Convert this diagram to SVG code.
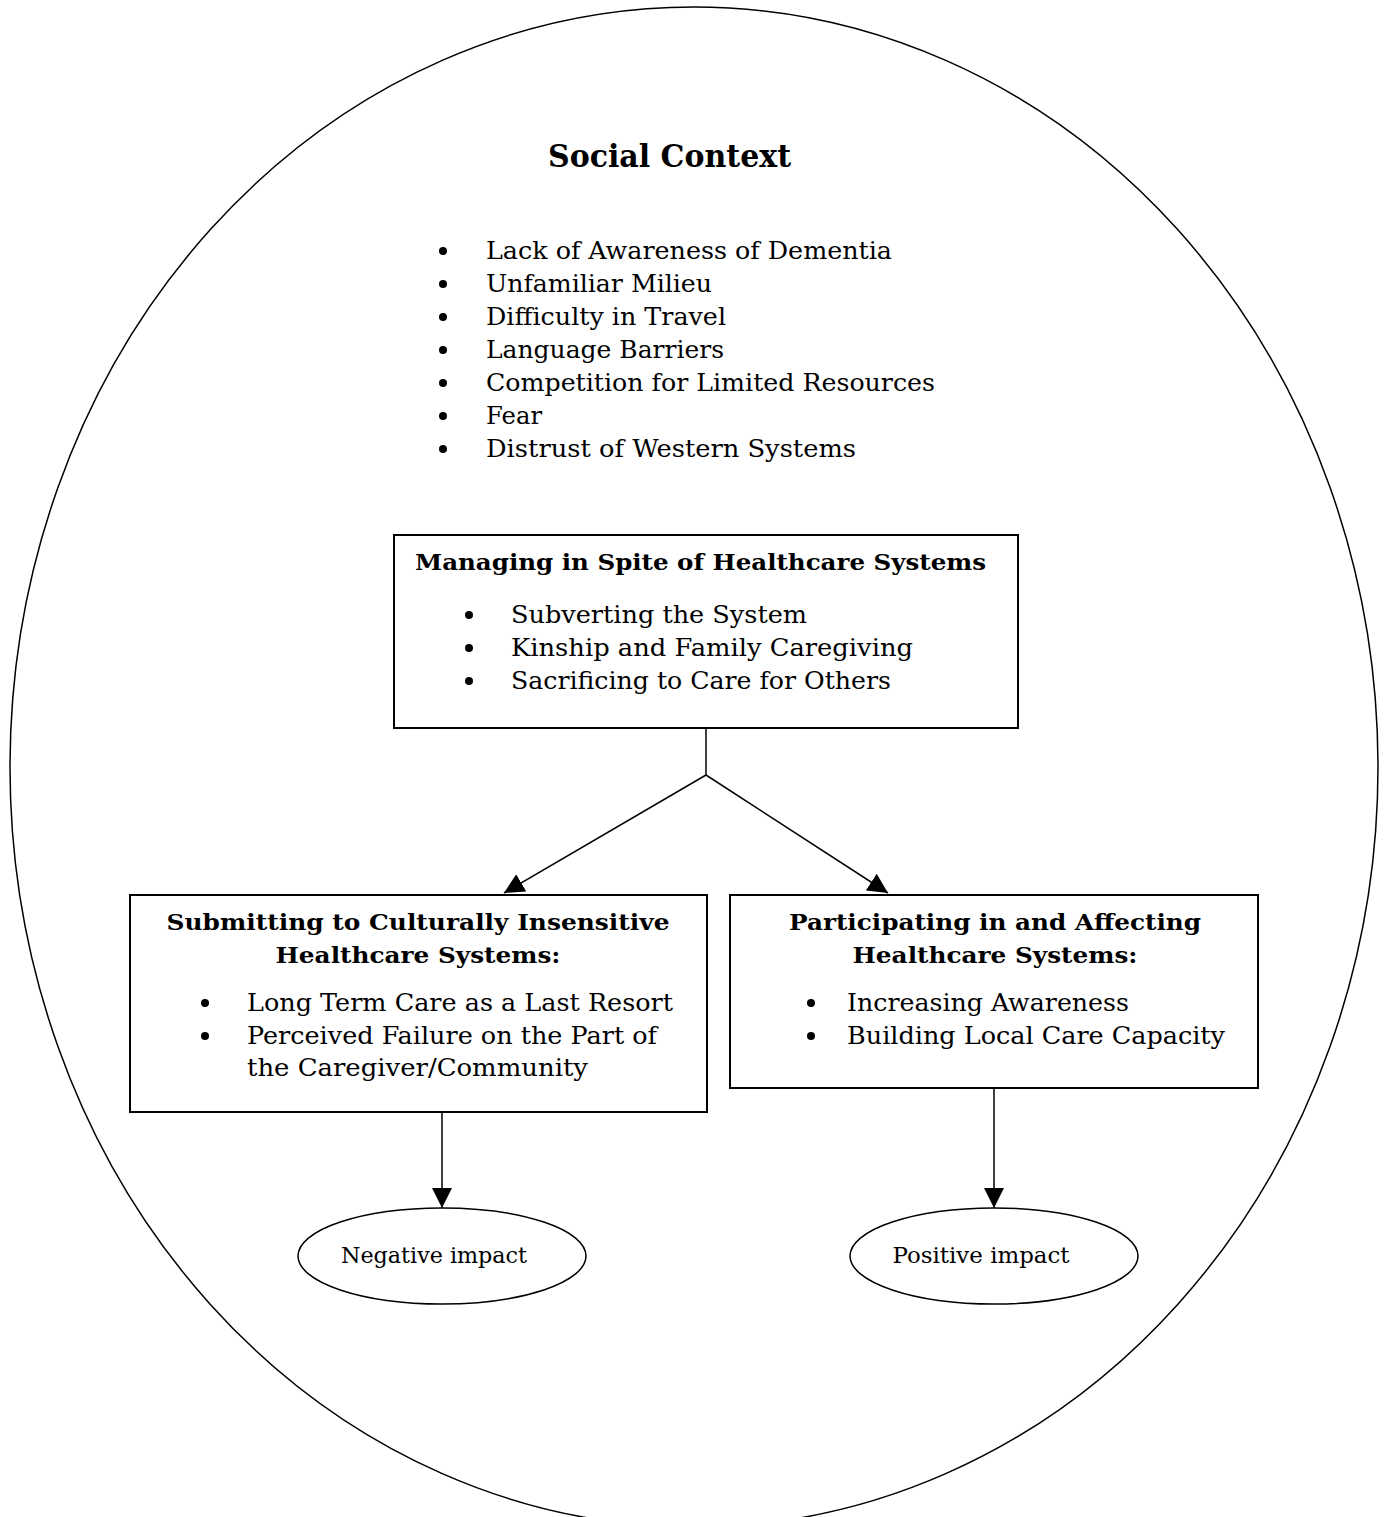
<svg xmlns="http://www.w3.org/2000/svg" width="1387" height="1517" viewBox="0 0 1387 1517">
<style>
.t{font-family:"DejaVu Serif","Liberation Serif",serif;font-size:24px;fill:#000}
.b{font-family:"DejaVu Serif","Liberation Serif",serif;font-size:23px;font-weight:bold;fill:#000}
.h{font-family:"DejaVu Serif","Liberation Serif",serif;font-size:31px;font-weight:bold;fill:#000}
.s{font-family:"DejaVu Serif","Liberation Serif",serif;font-size:22px;fill:#000}
.box{fill:#fff;stroke:#000;stroke-width:2}
.ln{fill:none;stroke:#000;stroke-width:1.5}
</style>
<defs>
<marker id="ah" viewBox="0 0 10 10" refX="10" refY="5" markerWidth="20" markerHeight="20" markerUnits="userSpaceOnUse" orient="auto">
<path d="M0,0 L10,5 L0,10 z" fill="#000"/>
</marker>
</defs>
<rect width="1387" height="1517" fill="#fff"/>
<g id="context">
<ellipse cx="694" cy="767" rx="684" ry="760" fill="none" stroke="#000" stroke-width="1.5"/>
<text class="h" x="548" y="167" textLength="243" lengthAdjust="spacingAndGlyphs">Social Context</text>
<g class="t">
<circle cx="443" cy="251" r="4"/><text x="486" y="259" textLength="406" lengthAdjust="spacingAndGlyphs">Lack of Awareness of Dementia</text>
<circle cx="443" cy="284" r="4"/><text x="486" y="292" textLength="226" lengthAdjust="spacingAndGlyphs">Unfamiliar Milieu</text>
<circle cx="443" cy="317" r="4"/><text x="486" y="325" textLength="240" lengthAdjust="spacingAndGlyphs">Difficulty in Travel</text>
<circle cx="443" cy="350" r="4"/><text x="486" y="358" textLength="238" lengthAdjust="spacingAndGlyphs">Language Barriers</text>
<circle cx="443" cy="383" r="4"/><text x="486" y="391" textLength="449" lengthAdjust="spacingAndGlyphs">Competition for Limited Resources</text>
<circle cx="443" cy="416" r="4"/><text x="486" y="424" textLength="56" lengthAdjust="spacingAndGlyphs">Fear</text>
<circle cx="443" cy="449" r="4"/><text x="486" y="457" textLength="370" lengthAdjust="spacingAndGlyphs">Distrust of Western Systems</text>
</g>
</g>
<g id="managing">
<rect class="box" x="394" y="535" width="624" height="193"/>
<text class="b" x="415" y="570" textLength="571" lengthAdjust="spacingAndGlyphs">Managing in Spite of Healthcare Systems</text>
<g class="t">
<circle cx="469" cy="615" r="4"/><text x="511" y="623" textLength="296" lengthAdjust="spacingAndGlyphs">Subverting the System</text>
<circle cx="469" cy="648" r="4"/><text x="511" y="656" textLength="402" lengthAdjust="spacingAndGlyphs">Kinship and Family Caregiving</text>
<circle cx="469" cy="681" r="4"/><text x="511" y="689" textLength="380" lengthAdjust="spacingAndGlyphs">Sacrificing to Care for Others</text>
</g>
</g>
<g id="submitting">
<rect class="box" x="130" y="895" width="577" height="217"/>
<text class="b" x="418" y="930" text-anchor="middle" textLength="503" lengthAdjust="spacingAndGlyphs">Submitting to Culturally Insensitive</text>
<text class="b" x="418" y="963" text-anchor="middle" textLength="285" lengthAdjust="spacingAndGlyphs">Healthcare Systems:</text>
<g class="t">
<circle cx="205" cy="1003" r="4"/><text x="247" y="1011" textLength="426" lengthAdjust="spacingAndGlyphs">Long Term Care as a Last Resort</text>
<circle cx="205" cy="1036" r="4"/><text x="247" y="1044" textLength="410" lengthAdjust="spacingAndGlyphs">Perceived Failure on the Part of</text>
<text x="247" y="1076" textLength="341" lengthAdjust="spacingAndGlyphs">the Caregiver/Community</text>
</g>
</g>
<g id="participating">
<rect class="box" x="730" y="895" width="528" height="193"/>
<text class="b" x="995" y="930" text-anchor="middle" textLength="412" lengthAdjust="spacingAndGlyphs">Participating in and Affecting</text>
<text class="b" x="995" y="963" text-anchor="middle" textLength="285" lengthAdjust="spacingAndGlyphs">Healthcare Systems:</text>
<g class="t">
<circle cx="811" cy="1003" r="4"/><text x="847" y="1011" textLength="282" lengthAdjust="spacingAndGlyphs">Increasing Awareness</text>
<circle cx="811" cy="1036" r="4"/><text x="847" y="1044" textLength="378" lengthAdjust="spacingAndGlyphs">Building Local Care Capacity</text>
</g>
</g>
<g id="negative">
<ellipse cx="442" cy="1256" rx="144" ry="48" fill="#fff" stroke="#000" stroke-width="1.5"/>
<text class="s" x="434" y="1263" text-anchor="middle" textLength="186" lengthAdjust="spacingAndGlyphs">Negative impact</text>
</g>
<g id="positive">
<ellipse cx="994" cy="1256" rx="144" ry="48" fill="#fff" stroke="#000" stroke-width="1.5"/>
<text class="s" x="981" y="1263" text-anchor="middle" textLength="177" lengthAdjust="spacingAndGlyphs">Positive impact</text>
</g>
<g id="connectors">
<polyline class="ln" points="706,728 706,775"/>
<line class="ln" x1="706" y1="775" x2="504" y2="893" marker-end="url(#ah)"/>
<line class="ln" x1="706" y1="775" x2="888" y2="893" marker-end="url(#ah)"/>
<line class="ln" x1="442" y1="1112" x2="442" y2="1208" marker-end="url(#ah)"/>
<line class="ln" x1="994" y1="1088" x2="994" y2="1208" marker-end="url(#ah)"/>
</g>
</svg>
